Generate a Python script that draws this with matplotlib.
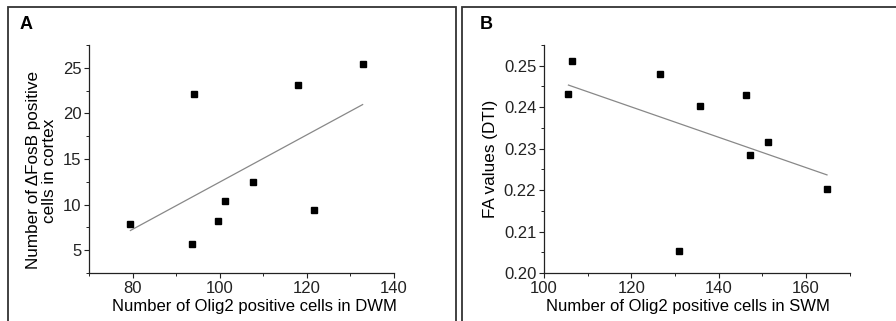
import numpy as np
import matplotlib
matplotlib.use("Agg")
import matplotlib.pyplot as plt
from matplotlib.patches import Rectangle
from matplotlib.ticker import MultipleLocator

plt.rcParams['font.family'] = ['Liberation Sans', 'DejaVu Sans']

# panel A: Olig2 in DWM vs dFosB cells in cortex
dwm_olig2 = [79.5, 93.7, 94.1, 99.5, 101.2, 107.6, 118.0, 121.7, 132.8]
cortex_fosb = [7.9, 5.7, 22.1, 8.2, 10.4, 12.5, 23.1, 9.4, 25.4]

# panel B: Olig2 in SWM vs FA values
swm_olig2 = [105.6, 106.5, 126.6, 130.9, 135.8, 146.2, 147.2, 151.3, 164.8]
fa_values = [0.2431, 0.2511, 0.2481, 0.2054, 0.2404, 0.2429, 0.2284, 0.2315, 0.2203]

fig = plt.figure(figsize=(8.96, 3.21), dpi=100)

# panel frames
for x0, w in [(8, 448), (462, 440)]:
    fig.patches.append(Rectangle((x0 / 896, -0.1), w / 896, 1.1 - 7 / 321,
                                 transform=fig.transFigure, fill=False,
                                 edgecolor='#333333', linewidth=1.3))

fig.text(20 / 896, 1 - 29 / 321, 'A', fontsize=13, fontweight='bold')
fig.text(480 / 896, 1 - 29 / 321, 'B', fontsize=13, fontweight='bold')

axA = fig.add_axes([89 / 896, 0.1495, 305 / 896, 0.7103])
axB = fig.add_axes([544 / 896, 0.1495, 305.7 / 896, 0.7103])


def style(ax):
    ax.spines['top'].set_visible(False)
    ax.spines['right'].set_visible(False)
    for s in ['left', 'bottom']:
        ax.spines[s].set_linewidth(0.9)
        ax.spines[s].set_color('#222222')
    ax.tick_params(which='major', direction='out', length=3.5, width=0.8,
                   labelsize=12, colors='#222222', pad=2)
    ax.tick_params(which='minor', direction='out', length=2, width=0.7,
                   colors='#222222')


def scatter_fit(ax, x, y):
    x = np.array(x)
    y = np.array(y)
    k, b = np.polyfit(x, y, 1)
    xs = np.array([x.min(), x.max()])
    ax.plot(xs, k * xs + b, color='#888888', linewidth=0.9)
    ax.plot(x, y, 's', color='black', markersize=4.3, linestyle='none')


scatter_fit(axA, dwm_olig2, cortex_fosb)
axA.set_xlim(70, 140)
axA.set_ylim(2.5, 27.5)
axA.xaxis.set_major_locator(MultipleLocator(20))
axA.xaxis.set_minor_locator(MultipleLocator(10))
axA.yaxis.set_major_locator(MultipleLocator(5))
axA.yaxis.set_minor_locator(MultipleLocator(2.5))
style(axA)
axA.set_xlabel('Number of Olig2 positive cells in DWM', fontsize=12)
axA.xaxis.set_label_coords(0.544, -0.115)
axA.set_ylabel('Number of \u0394FosB positive\ncells in cortex', fontsize=12.3,
               linespacing=1.1)
axA.yaxis.set_label_coords(-0.105, 0.45)

scatter_fit(axB, swm_olig2, fa_values)
axB.set_xlim(100, 170)
axB.set_ylim(0.20, 0.255)
axB.xaxis.set_major_locator(MultipleLocator(20))
axB.xaxis.set_minor_locator(MultipleLocator(10))
axB.yaxis.set_major_locator(MultipleLocator(0.01))
axB.yaxis.set_minor_locator(MultipleLocator(0.005))
axB.yaxis.set_major_formatter(plt.FormatStrFormatter('%.2f'))
style(axB)
axB.set_xlabel('Number of Olig2 positive cells in SWM', fontsize=12)
axB.xaxis.set_label_coords(0.471, -0.115)
axB.set_ylabel('FA values (DTI)', fontsize=12.3, labelpad=4)

fig.savefig('out.png', dpi=100)
